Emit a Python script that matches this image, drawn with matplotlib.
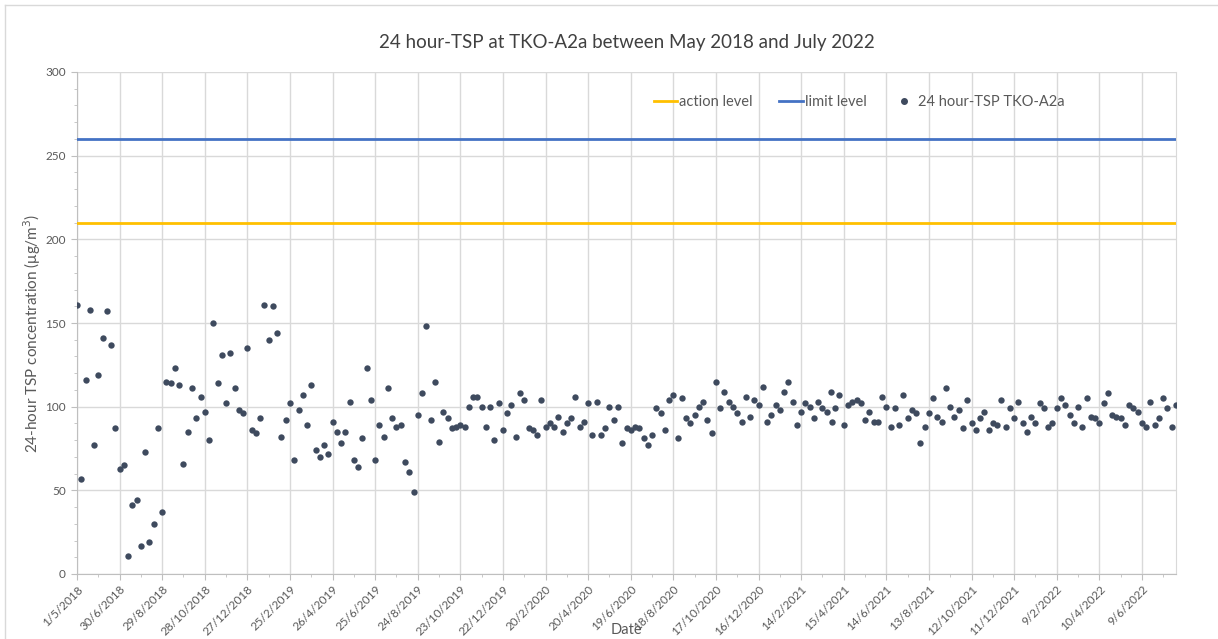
import matplotlib
matplotlib.use('Agg')
import matplotlib.pyplot as plt
import matplotlib.dates as mdates
from matplotlib.lines import Line2D
from matplotlib.ticker import MultipleLocator, FixedLocator
import pandas as pd

plt.rcParams['font.family'] = ['Lato', 'DejaVu Sans']

# 24 hour-TSP at TKO-A2a (ug/m3), one sample every 6 days from 1/5/2018,
# plus one extra sample at the end of March 2021
tsp = [161, 57, 116, 158, 77, 119, 141, 157, 137, 87, 63, 65, 11, 41, 44, 17, 73, 19, 30, 87,
       37, 115, 114, 123, 113, 66, 85, 111, 93, 106, 97, 80, 150, 114, 131, 102, 132, 111, 98, 96,
       135, 86, 84, 93, 161, 140, 160, 144, 82, 92, 102, 68, 98, 107, 89, 113, 74, 70, 77, 72,
       91, 85, 78, 85, 103, 68, 64, 81, 123, 104, 68, 89, 82, 111, 93, 88, 89, 67, 61, 49,
       95, 108, 148, 92, 115, 79, 97, 93, 87, 88, 89, 88, 100, 106, 106, 100, 88, 100, 80, 102,
       86, 96, 101, 82, 108, 104, 87, 86, 83, 104, 88, 90, 88, 94, 85, 90, 93, 106, 88, 91,
       102, 83, 103, 83, 87, 100, 92, 100, 78, 87, 86, 88, 87, 81, 77, 83, 99, 96, 86, 104,
       107, 81, 105, 93, 90, 95, 100, 103, 92, 84, 115, 99, 109, 103, 100, 96, 91, 106, 94, 104,
       101, 112, 91, 95, 101, 98, 109, 115, 103, 89, 97, 102, 100, 93, 103, 99, 97, 109, 91,
       99, 107, 89, 101, 103, 104, 102, 92, 97, 91, 91, 106, 100, 88, 99, 89, 107, 93, 98, 96,
       78, 88, 96, 105, 94, 91, 111, 100, 94, 98, 87, 104, 90, 86, 93, 97, 86, 90, 89, 104,
       88, 99, 93, 103, 90, 85, 94, 90, 102, 99, 88, 90, 99, 105, 101, 95, 90, 100, 88, 105,
       94, 93, 90, 102, 108, 95, 94, 93, 89, 101, 99, 97, 90, 88, 103, 89, 93, 105, 99, 88, 101]

first_date = '2018-05-01'
n_regular = 259
extra_date = '2021-03-30'
extra_pos = 178

action_level = 210
limit_level = 260

tick_labels = ['1/5/2018', '30/6/2018', '29/8/2018', '28/10/2018', '27/12/2018', '25/2/2019',
               '26/4/2019', '25/6/2019', '24/8/2019', '23/10/2019', '22/12/2019', '20/2/2020',
               '20/4/2020', '19/6/2020', '18/8/2020', '17/10/2020', '16/12/2020', '14/2/2021',
               '15/4/2021', '14/6/2021', '13/8/2021', '12/10/2021', '11/12/2021', '9/2/2022',
               '10/4/2022', '9/6/2022']

dates = list(pd.date_range(first_date, periods=n_regular, freq='6D'))
dates.insert(extra_pos, pd.Timestamp(extra_date))

grey_txt = '#595959'
grid_c = '#d9d9d9'

fig = plt.figure(figsize=(12.18, 6.39), dpi=100)
ax = fig.add_axes([77 / 1218, 1 - 574 / 639, 1099 / 1218, 502 / 639])

# outer chart border (left and top only visible)
fig.add_artist(Line2D([5 / 1218, 5 / 1218], [0, 1 - 5 / 639], color=grid_c, lw=1))
fig.add_artist(Line2D([5 / 1218, 1], [1 - 5 / 639, 1 - 5 / 639], color=grid_c, lw=1))

ax.plot([dates[0], dates[-1]], [action_level, action_level], color='#FFC000', lw=2, zorder=3)
ax.plot([dates[0], dates[-1]], [limit_level, limit_level], color='#4472C4', lw=2, zorder=3)
ax.scatter(dates, tsp, s=21, color='#3E4A5E', zorder=4, linewidths=0)

ax.set_xlim(dates[0], dates[-1])
ax.set_ylim(0, 300)

tick_dates = pd.to_datetime(tick_labels, format='%d/%m/%Y')
ax.xaxis.set_major_locator(FixedLocator(mdates.date2num(tick_dates)))
ax.set_xticklabels(tick_labels, rotation=45, ha='right', va='top', rotation_mode='anchor')
minor = [mdates.date2num(d) + 30 for d in tick_dates]
ax.xaxis.set_minor_locator(FixedLocator(minor))
ax.yaxis.set_major_locator(MultipleLocator(50))
ax.yaxis.set_minor_locator(MultipleLocator(10))

ax.grid(True, which='major', color=grid_c, lw=1)
ax.set_axisbelow(True)
ax.spines['top'].set_visible(False)
ax.spines['right'].set_color(grid_c)
ax.spines['left'].set_color('#bfbfbf')
ax.spines['bottom'].set_color('#bfbfbf')

ax.tick_params(axis='both', which='major', labelsize=8.5, labelcolor=grey_txt, color='#bfbfbf', length=4)
ax.tick_params(axis='both', which='minor', color='#bfbfbf', length=2.5)
ax.tick_params(axis='y', pad=4)
ax.tick_params(axis='x', pad=3)

ax.set_title('24 hour-TSP at TKO-A2a between May 2018 and July 2022', fontsize=13.5,
             color='#404040', pad=17)
ax.set_ylabel('24-hour TSP concentration (μg/m$^3$)', fontsize=11, color=grey_txt, va='center')
ax.yaxis.set_label_coords(-0.0405, 0.48)
ax.set_xlabel('Date', fontsize=10.5, color=grey_txt, va='center')
ax.xaxis.set_label_coords(0.5, -0.111)

handles = [Line2D([], [], color='#FFC000', lw=2),
           Line2D([], [], color='#4472C4', lw=2),
           Line2D([], [], color='#3E4A5E', marker='o', ls='none', ms=4)]
ax.legend(handles, ['action level', 'limit level', '24 hour-TSP TKO-A2a'], ncol=3,
          loc='center left', bbox_to_anchor=(0.513, 0.94), frameon=False, fontsize=10.5,
          handlelength=1.6, handletextpad=0.15, columnspacing=1.8, labelcolor=grey_txt)

fig.savefig('out.png', dpi=100)
